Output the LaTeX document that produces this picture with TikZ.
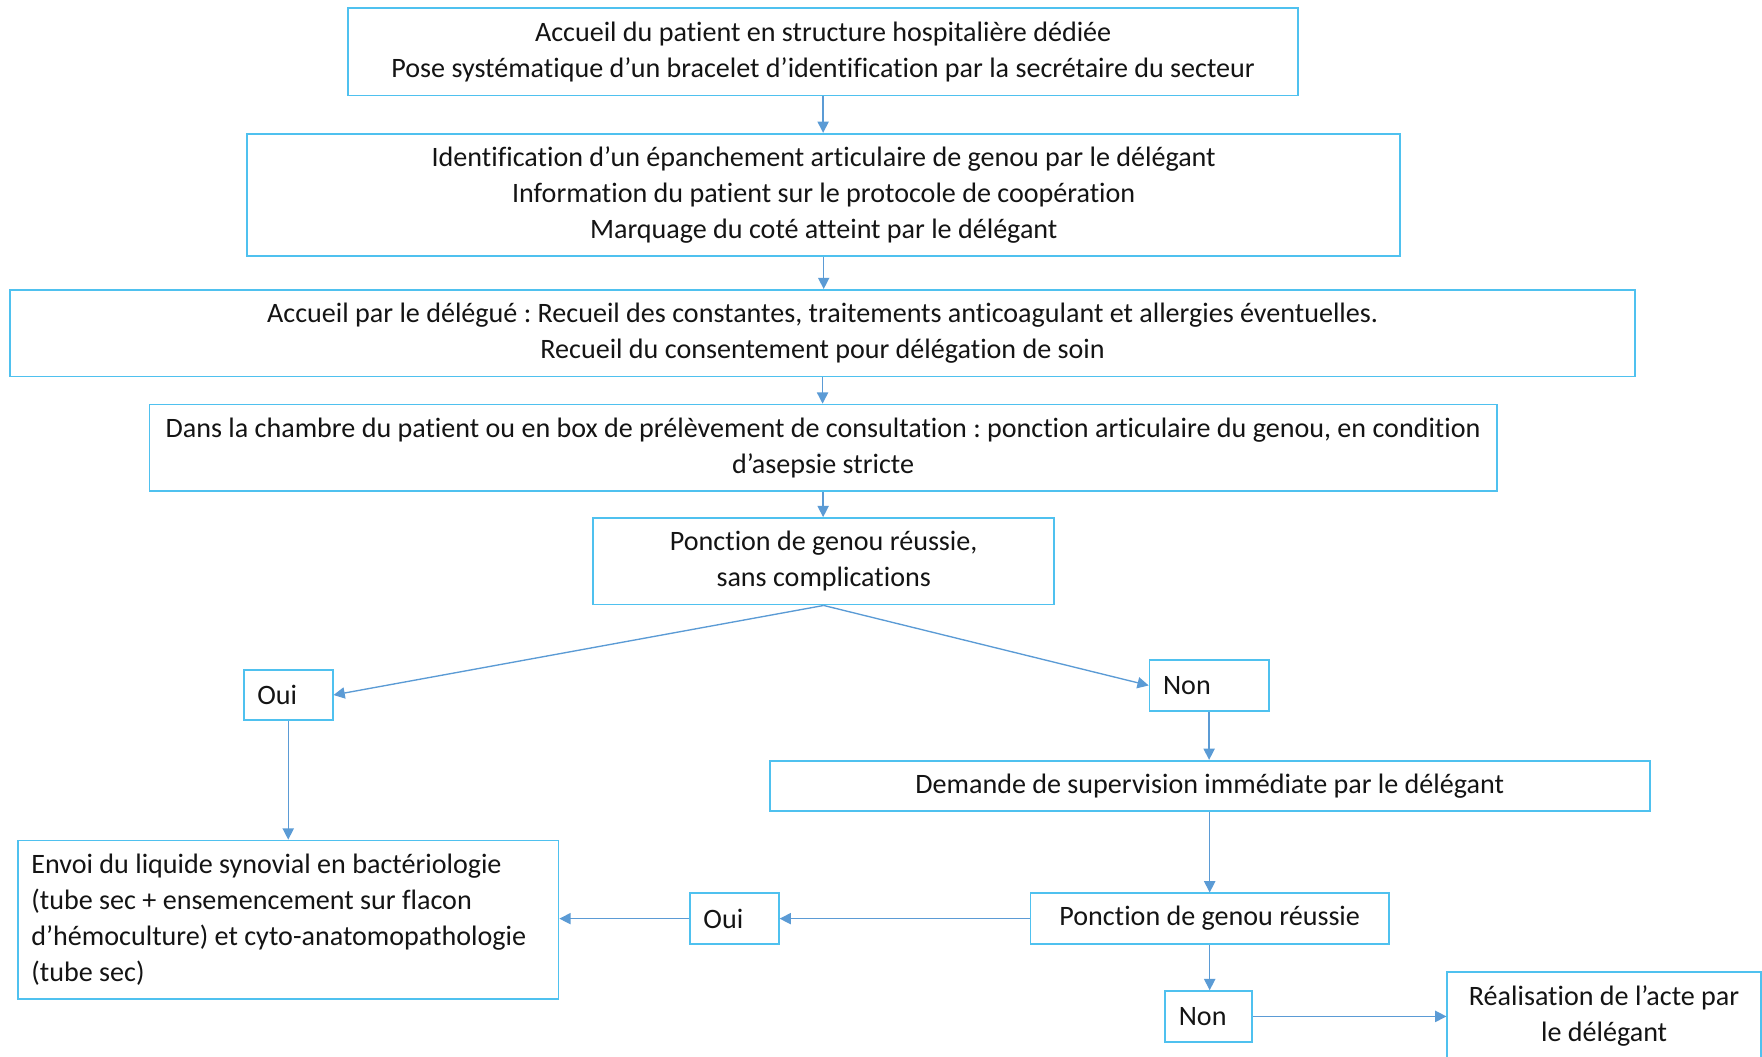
\documentclass[tikz,border=0pt]{standalone}
\usepackage{fontspec}
\setmainfont{Carlito}[Ligatures=NoCommon]
\usetikzlibrary{arrows.meta}
\definecolor{boxc}{RGB}{79,193,239}
\definecolor{arrc}{RGB}{91,155,213}
\definecolor{txt}{RGB}{20,20,20}
\frenchspacing
\tikzset{
  box/.style={draw=boxc, line width=0.8pt, inner sep=0pt, align=center, text=txt,
    font=\fontsize{12.5}{16}\selectfont\frenchspacing},
  lbox/.style={box, align=flush left, inner xsep=6pt},
  arr/.style={draw=arrc, line width=0.6pt, -{Triangle[length=5pt,width=5pt]}}
}
\begin{document}
\begin{tikzpicture}[x=0.5pt,y=-0.5pt]
\useasboundingbox (0,0) rectangle (1568,940);
\clip (0,0) rectangle (1568,940);
\node[box, minimum width=422.5pt, minimum height=39pt] (b1) at (732.5,46)
  {Accueil du patient en structure hospitalière dédiée\\Pose systématique d’un bracelet d’identification par la secrétaire du secteur};
\node[box, minimum width=513pt, minimum height=54.5pt] (b2) at (733,173.5)
  {Identification d’un épanchement articulaire de genou par le délégant\\Information du patient sur le protocole de coopération\\Marquage du coté atteint par le délégant};
\node[box, minimum width=723pt, minimum height=38.5pt] (b3) at (732,296.5)
  {Accueil par le délégué : Recueil des constantes, traitements anticoagulant et allergies éventuelles.\\Recueil du consentement pour délégation de soin};
\node[box, minimum width=599.5pt, minimum height=38.5pt] (b4) at (732.5,398.5)
  {Dans la chambre du patient ou en box de prélèvement de consultation : ponction articulaire du genou, en condition\\d’asepsie stricte};
\node[box, minimum width=205pt, minimum height=38.5pt] (b5) at (733,499.5)
  {Ponction de genou réussie,\\sans complications};
\node[lbox, text width=27.5pt, minimum height=22.5pt] (oui1) at (256.5,618.5) {Oui};
\node[lbox, text width=41pt, minimum height=23pt] (non1) at (1076,610) {Non};
\node[box, minimum width=391.5pt, minimum height=22.5pt] (dem) at (1076.5,699.5)
  {Demande de supervision immédiate par le délégant};
\node[lbox, text width=228.5pt, minimum height=70.5pt] (envoi) at (256.5,818.5)
  {Envoi du liquide synovial en bactériologie\\(tube sec + ensemencement sur flacon\\d’hémoculture) et cyto-anatomopathologie\\(tube sec)};
\node[lbox, text width=27.5pt, minimum height=22.5pt] (oui2) at (653.5,817.5) {Oui};
\node[box, minimum width=159.5pt, minimum height=22.5pt] (p2) at (1076.5,817.5)
  {Ponction de genou réussie};
\node[lbox, text width=26.5pt, minimum height=22.5pt] (non2) at (1075.5,904.5) {Non};
\node[box, minimum width=139.5pt, minimum height=39.5pt] (real) at (1427.5,904.5)
  {Réalisation de l’acte par\\le délégant};
\draw[arr] (b1.south) -- (b1.south |- b2.north);
\draw[arr] (b2.south) -- (b2.south |- b3.north);
\draw[arr] (b3.south) -- (b3.south |- b4.north);
\draw[arr] (b4.south) -- (b4.south |- b5.north);
\draw[arr] (b5.south) -- (oui1.east);
\draw[arr] (b5.south) -- (non1.west);
\draw[arr] (oui1.south) -- (oui1.south |- envoi.north);
\draw[arr] (non1.south) -- (non1.south |- dem.north);
\draw[arr] (dem.south) -- (dem.south |- p2.north);
\draw[arr] (p2.west) -- (oui2.east);
\draw[arr] (oui2.west) -- (oui2.west -| envoi.east);
\draw[arr] (p2.south) -- (p2.south |- non2.north);
\draw[arr] (non2.east) -- (non2.east -| real.west);
\end{tikzpicture}
\end{document}
